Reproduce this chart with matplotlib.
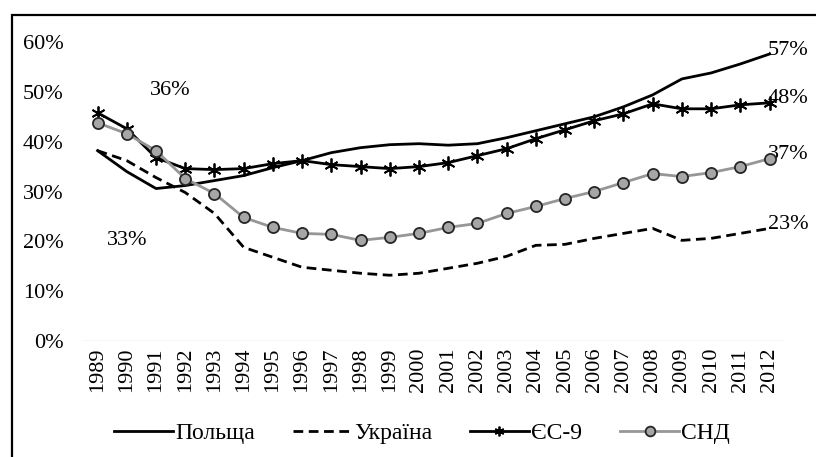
import matplotlib.pyplot as plt
from matplotlib.patches import Rectangle
from matplotlib.ticker import PercentFormatter

plt.rcParams['font.family'] = ['Liberation Serif', 'DejaVu Serif']

# Дані (частка, %)
years = [str(y) for y in range(1989, 2013)]
poland = [38.2, 34.0, 30.6, 31.2, 32.2, 33.2, 34.8, 36.2, 37.8, 38.8, 39.4, 39.6,
          39.3, 39.6, 40.8, 42.2, 43.6, 45.0, 47.0, 49.4, 52.6, 53.8, 55.6, 57.6]
ukraine = [38.2, 36.2, 32.8, 29.8, 25.6, 18.8, 16.8, 14.8, 14.2, 13.6, 13.2, 13.6,
           14.6, 15.6, 17.0, 19.2, 19.4, 20.6, 21.6, 22.6, 20.2, 20.6, 21.6, 22.6]
eu9 = [45.8, 42.6, 36.8, 34.6, 34.4, 34.6, 35.6, 36.2, 35.4, 35.0, 34.6, 35.0,
       35.8, 37.2, 38.6, 40.6, 42.4, 44.2, 45.6, 47.6, 46.6, 46.6, 47.4, 47.8]
cis = [43.8, 41.6, 38.2, 32.6, 29.6, 24.8, 22.8, 21.6, 21.4, 20.2, 20.8, 21.6,
       22.8, 23.6, 25.6, 27.0, 28.6, 30.0, 31.8, 33.6, 33.0, 33.8, 35.0, 36.6]
names = ['Польща', 'Україна', 'ЄС-9', 'СНД']
end_labels = ['57%', '23%', '48%', '37%']

fig = plt.figure(figsize=(8.16, 4.57), dpi=100)
ax = fig.add_axes([0.1017, 0.2538, 0.8593, 0.6542])

x = range(len(years))
ax.plot(x, poland, color='black', lw=2.0, label=names[0], zorder=3)
ax.plot(x, ukraine, color='black', lw=2.0, ls=(0, (3.5, 2)), label=names[1], zorder=3)
ax.plot(x, eu9, color='black', lw=2.0, marker=(6, 2, 0), ms=10, mew=1.3,
        label=names[2], zorder=4)
ax.plot(x, cis, color='#969696', lw=2.0, marker='o', ms=8, mfc='#a6a6a6',
        mec='#262626', mew=1.3, label=names[3], zorder=5)

# підписи на кінцях
for series, txt in zip([poland, ukraine, eu9, cis], end_labels):
    ax.text(len(years) - 1.05, series[-1] + 0.8, txt, fontsize=16,
            ha='left', va='center')
ax.text(2.5, 50.2, '36%', fontsize=16, ha='center', va='center')
ax.text(1.0, 20.2, '33%', fontsize=16, ha='center', va='center')

ax.set_xlim(-0.5, len(years) - 0.5)
ax.set_ylim(0, 60)
ax.set_yticks(range(0, 61, 10))
ax.yaxis.set_major_formatter(PercentFormatter(decimals=0))
ax.set_xticks(list(x))
ax.set_xticklabels(years, rotation=90, fontsize=16)
ax.tick_params(axis='y', labelsize=16, length=0, pad=14)
ax.tick_params(axis='x', length=0, pad=5)
for s in ax.spines.values():
    s.set_visible(False)
ax.axhline(0, color='#d9d9d9', lw=1.0, zorder=1)

leg = fig.legend(loc='center', bbox_to_anchor=(0.517, 0.052), ncol=4, frameon=False,
                 fontsize=17, handlelength=2.5, handletextpad=0.1, columnspacing=1.6)
for h in leg.legend_handles:
    h.set_markersize(7)

# рамка
fig.patches.append(Rectangle((12 / 816, -0.1), 1.1, 1.1 - 15 / 457,
                             transform=fig.transFigure, fill=False,
                             edgecolor='black', lw=1.6))

fig.savefig('out.png', dpi=100)
